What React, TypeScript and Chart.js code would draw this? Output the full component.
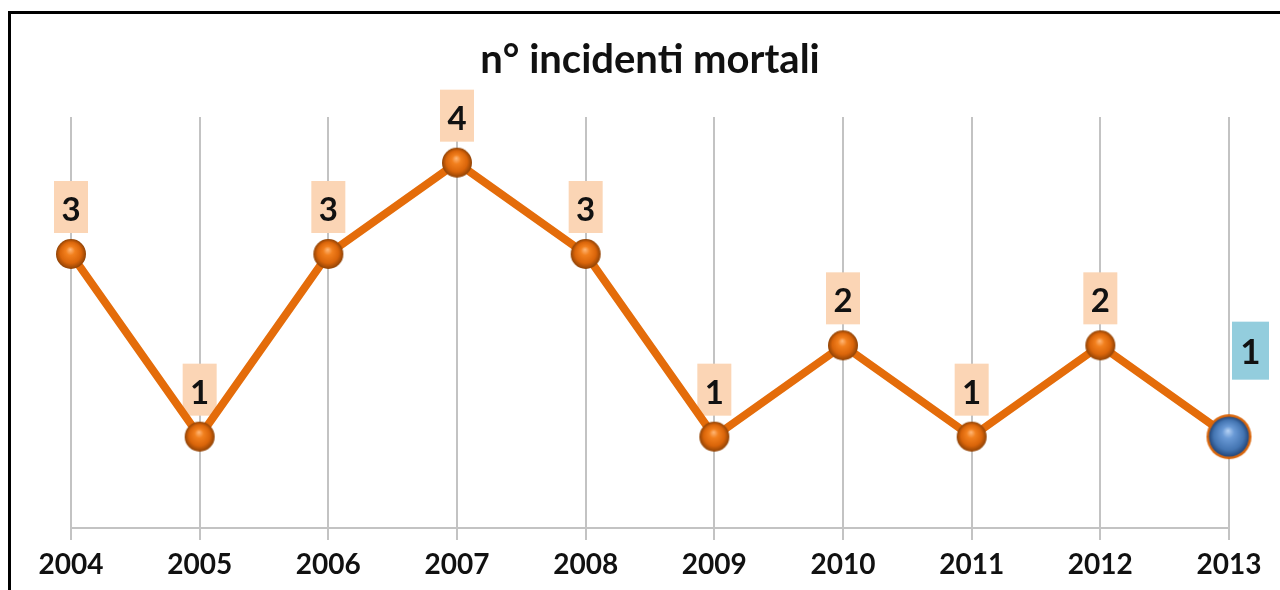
import React, { useEffect, useRef } from "react";
import { Chart, registerables } from "chart.js";

Chart.register(...registerables);

const years: string[] = ["2004", "2005", "2006", "2007", "2008", "2009", "2010", "2011", "2012", "2013"];
const incidents: number[] = [3, 1, 3, 4, 3, 1, 2, 1, 2, 1];
const highlightIndex = 9;
const chartTitle = "n° incidenti mortali";
const yMin = 0;
const yMax = 4.5;

const FONT = "Lato, 'Open Sans', sans-serif";

function makeSphere(r: number, stops: [number, string][], ring?: string, ringWidth = 0): HTMLCanvasElement {
  const total = r + ringWidth;
  const size = Math.ceil(total * 2 + 2);
  const c = document.createElement("canvas");
  c.width = size;
  c.height = size;
  const g = c.getContext("2d")!;
  const cx = size / 2;
  const cy = size / 2;
  if (ring) {
    g.beginPath();
    g.arc(cx, cy, total, 0, Math.PI * 2);
    g.fillStyle = ring;
    g.fill();
  }
  const grad = g.createRadialGradient(cx - r * 0.05, cy - r * 0.3, 0, cx, cy, r);
  stops.forEach(([o, col]) => grad.addColorStop(o, col));
  g.beginPath();
  g.arc(cx, cy, r, 0, Math.PI * 2);
  g.fillStyle = grad;
  g.fill();
  return c;
}

export default function App() {
  const canvasRef = useRef<HTMLCanvasElement | null>(null);

  useEffect(() => {
    const orangeSphere = makeSphere(15, [
      [0, "#FFB879"],
      [0.3, "#F2801E"],
      [0.7, "#DA650A"],
      [1, "#8F4205"],
    ]);
    const blueSphere = makeSphere(
      20,
      [
        [0, "#B7D3F5"],
        [0.3, "#6A9AD6"],
        [0.75, "#4475B2"],
        [1, "#24477A"],
      ],
      "#D9660C",
      2.5
    );

    const labelPlugin = {
      id: "boxLabels",
      beforeDatasetsDraw(chart: any) {
        const meta = chart.getDatasetMeta(0);
        const ctx = chart.ctx as CanvasRenderingContext2D;
        ctx.save();
        meta.data.forEach((pt: any, i: number) => {
          const hl = i === highlightIndex;
          const text = String(incidents[i]);
          let w: number, h: number, left: number, bottom: number, fontSize: number, baseOff: number;
          if (hl) {
            w = 37;
            h = 58;
            left = pt.x + 3;
            bottom = pt.y - 57;
            fontSize = 35;
            baseOff = 16;
          } else {
            w = 34;
            h = 52;
            left = pt.x - w / 2;
            bottom = pt.y - 21;
            fontSize = 33;
            baseOff = 12;
          }
          ctx.fillStyle = hl ? "#93CDDD" : "#FBD5B5";
          ctx.fillRect(left, bottom - h, w, h);
          ctx.fillStyle = "#111111";
          ctx.font = `bold ${fontSize}px ${FONT}`;
          ctx.textAlign = "center";
          ctx.textBaseline = "alphabetic";
          ctx.fillText(text, left + w / 2, bottom - baseOff);
        });
        ctx.restore();
      },
    };

    const chart = new Chart(canvasRef.current!, {
      type: "line",
      data: {
        labels: years,
        datasets: [
          {
            data: incidents,
            borderColor: "#E46C0A",
            borderWidth: 8,
            tension: 0,
            clip: false as any,
            pointRadius: 15,
            pointStyle: (ctx: any) => (ctx.dataIndex === highlightIndex ? blueSphere : orangeSphere),
          },
        ],
      },
      options: {
        animation: false,
        responsive: false,
        maintainAspectRatio: false,
        layout: { padding: { left: 71, right: 51, top: 0, bottom: 0 } },
        plugins: {
          legend: { display: false },
          tooltip: { enabled: false },
          title: {
            display: true,
            text: chartTitle,
            color: "#111111",
            font: { family: FONT, size: 40, weight: "bold", lineHeight: 1.2 },
            padding: { top: 36, bottom: 33 },
          },
        },
        scales: {
          x: {
            offset: false,
            grid: { color: "#C3C3C3", lineWidth: 2, tickLength: 12, drawOnChartArea: true },
            border: { display: true, color: "#C3C3C3", width: 2 },
            ticks: {
              color: "#111111",
              font: { family: FONT, size: 28, weight: "bold" },
              padding: 8,
              maxRotation: 0,
              autoSkip: false,
            },
            afterFit: (scale: any) => {
              scale.height = 62;
            },
          },
          y: {
            display: false,
            min: yMin,
            max: yMax,
          },
        },
      },
      plugins: [labelPlugin],
    });
    return () => chart.destroy();
  }, []);

  return (
    <div style={{ position: "fixed", left: 0, top: 0, width: 1280, height: 590, overflow: "hidden", background: "#fff" }}>
      <div
        style={{
          position: "absolute",
          left: 8,
          top: 11,
          width: 1400,
          height: 700,
          borderTop: "3px solid #000",
          borderLeft: "3px solid #000",
        }}
      />
      <canvas ref={canvasRef} width={1280} height={590} style={{ position: "absolute", left: 0, top: 0, width: 1280, height: 590 }} />
    </div>
  );
}
